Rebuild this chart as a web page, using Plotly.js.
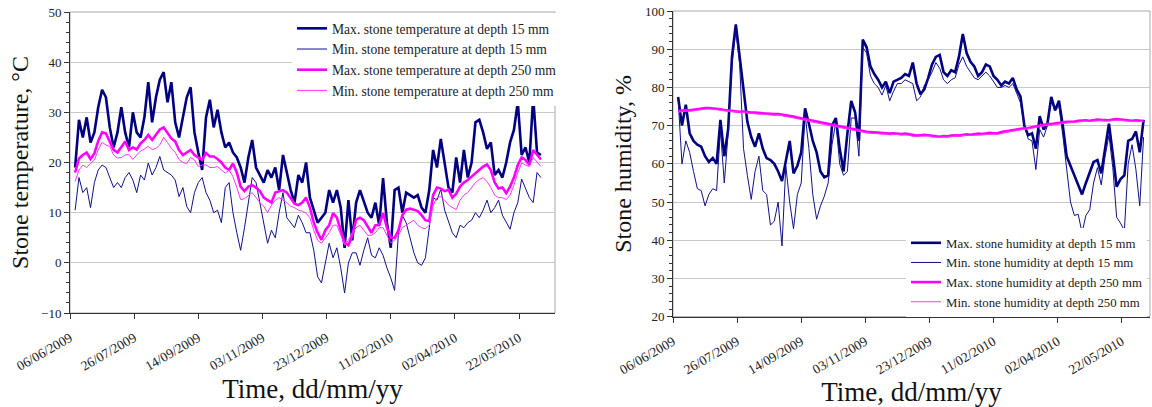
<!DOCTYPE html>
<html><head><meta charset="utf-8">
<script src="https://cdn.plot.ly/plotly-3.0.1.min.js"></script>
<style>html,body{margin:0;padding:0;background:#fff}#chart{width:1152px;height:407px}</style>
</head><body><div id="chart"></div>
<script>
// Sampling: one reading every 3 days, starting 10/06/2009
const START_DATE = [2009, 6, 10];
const STEP_DAYS = 3;

// Stone temperature, °C
const tempMax15 = [19, 28.5, 25, 29, 24, 26, 31, 34.5, 33, 27, 23, 26, 31, 26, 23, 30, 26, 25, 29, 36, 28, 33, 36.5, 38, 32, 36, 28, 25, 29, 33, 35, 26, 22, 18.5, 29, 32.5, 27, 30.5, 26, 23, 24,
  22, 21, 19, 16, 21, 24.5, 19, 17.5, 16, 18.5, 17, 19, 14.5, 21.5, 18, 14.5, 12, 17.5, 16, 20, 13, 10.5, 8, 9, 10, 14.5, 12, 14.5, 11, 3, 12.5, 4.5, 12, 14.5, 12, 10, 9, 12, 7.5, 16.9, 8, 3, 14.5,
  15, 10, 14, 13.5, 13, 13.5, 11, 10, 14.5, 22.5, 19, 24.7, 20, 15, 14, 21, 16, 22.5, 17, 20, 28, 28.5, 26, 22.7, 24, 17.5, 18.5, 17, 20, 24, 26.5, 32, 21.5, 23, 20, 33, 22, 21.5];
const tempMin15 = [10.5, 17, 14, 15, 11, 16, 18.5, 19.5, 19, 17, 15, 16, 15, 17, 18, 16.5, 14, 17.5, 16.5, 19.9, 17.5, 19, 21.2, 18.5, 18, 17.5, 16.5, 13.2, 15, 11.2, 10, 14, 16, 17, 14, 12.5, 10, 10.5, 8, 15, 16,
  10, 6, 2.5, 7, 12.5, 17, 16, 12, 7.9, 3.9, 6.5, 5, 10, 14, 9, 8, 7, 9.5, 8, 6, 6, 2.5, -2.8, -4, 0, 3.9, 1, 3, -1, -6, 0, 2, 2, -0.5, 2.5, 5, 1.5, 1, 3, 1.5, -1, -3, -5.5,
  6, 9.5, 8, 5, 2, 0, -0.5, 1, 6.7, 13, 12.5, 14.7, 10.5, 8, 6, 5, 7.5, 7, 8, 8.5, 10, 9, 10.5, 12.5, 10, 11, 12.5, 9.5, 8, 6.7, 10, 12, 16.7, 15, 13, 12, 18, 17];
const tempMax250 = [18, 20.8, 21.5, 22, 20.7, 21.8, 24.3, 26, 25.8, 24.3, 22.5, 22, 23, 24.2, 22.5, 23, 22.6, 23.8, 24.5, 25.5,
  24.5, 25.5, 26.6, 27, 26, 24.8, 24.2, 22.5, 21.5, 22, 22.5, 21.5, 21, 20.5, 21.9, 21.2, 21.2, 20.7, 20, 19,
  18.5, 19.8, 18, 15.2, 14.3, 15.2, 15.5, 15, 14.3, 13, 12.5, 12, 14, 14.2, 14.5, 14, 13, 11.8, 11.5, 12,
  13, 11, 8, 6, 4.6, 6.5, 7.5, 9.9, 9, 6.5, 4, 3.5, 5.5, 8.6, 9, 8.5, 7.3, 6, 7.5, 7.5,
  9.9, 7, 5, 5, 6.5, 9.5, 10.6, 10.8, 10.6, 10.3, 9.5, 8.5, 8.3, 13.5, 15, 14.8, 14.3, 14.6, 13, 13.8,
  15.2, 16, 16.5, 17.2, 17.8, 18.6, 19.2, 19.6, 18.5, 16, 14.8, 15, 13.9, 15.2, 17, 19.5, 21, 20.5, 19.5, 22.5, 21.5, 20.6];
const tempMin250 = [16.2, 18.5, 19.5, 19, 19.8, 20.5, 22.5, 24, 23.5, 23.2, 21.5, 20.9, 21, 21.5, 21.6, 20.6, 21.5, 22.3, 22.7, 23.2,
  22.6, 22.8, 23.5, 25, 24, 22.8, 22, 20.6, 20, 19.8, 21, 20.5, 19.2, 19.5, 19.5, 19, 19, 19.2, 18.5, 17.9,
  18.5, 17.2, 15, 12.6, 12.8, 13.5, 14, 13, 12, 11.3, 10, 11.5, 12.5, 13, 12.5, 12, 11.3, 11, 10.5, 10.3,
  9.9, 9, 6.5, 4.5, 3.9, 5, 6, 7.5, 7.5, 5.5, 3.5, 4.5, 6, 7, 7.5, 6.5, 5.5, 5.5, 6, 7,
  7, 5.5, 4, 4.5, 5.5, 7, 7.5, 8, 8.5, 7.5, 7, 6.8, 7.5, 11.5, 13, 13.2, 12.5, 11.5, 11, 10.6,
  12.5, 13.5, 14, 15, 16, 16.6, 17, 16.2, 15, 13.5, 13, 13, 12.6, 13.5, 15.5, 18, 19.9, 19.5, 19.2, 21, 20, 19.2];

// Stone humidity, %
const humMax15 = [77.5, 70, 75.5, 68, 66, 65, 64.5, 62, 60.5, 61.5, 60, 71.5, 62, 69, 88, 96.5, 88, 79, 71, 67, 64.5, 68, 64, 61.5, 61, 60, 58, 55.5, 60.7, 66, 57.5, 59.5, 63, 74.5, 70.5, 66, 63, 58, 56.5, 57, 70,
  72, 64, 58, 68, 76.5, 73.5, 66, 92.5, 90.5, 85.5, 83.5, 82, 80, 81.5, 78.5, 81.5, 82, 82.5, 83.5, 83, 86.5, 81, 78.2, 79.5, 82.5, 86, 88, 88.5, 84, 83, 84.5, 84, 88, 94, 89, 86.7, 85.5, 83, 84, 86, 85.5, 83, 82,
  80.5, 81.5, 81, 82.5, 79.5, 77.6, 70, 67.5, 68, 64, 72.5, 69, 70.5, 77.5, 74, 76.5, 70, 62, 59.5, 56.5, 54.5, 52, 55, 57.5, 60.5, 61, 57.5, 64, 70.5, 62.5, 54, 56, 57, 66, 66.5, 68.5, 63, 71.5];
const humMin15 = [77, 60, 66, 63, 58, 53.5, 53, 49, 52, 53.5, 53, 69, 55, 68, 86, 95, 86, 64, 57, 50.7, 58, 62, 53, 52, 44, 45, 50, 38.5, 59.4, 50, 43, 52, 55, 73, 64, 52, 45.5, 49, 51.5, 55, 65,
  71, 60, 57, 58, 72, 72, 62, 90.5, 89, 83, 81, 80, 78, 80.5, 76.5, 79, 81, 81, 82, 81.5, 81, 76.5, 77.5, 80.5, 82, 84, 86.5, 85, 82, 81, 82, 82.5, 86, 88, 85.5, 84, 82.5, 82, 83, 84, 83, 81.5, 80,
  80, 80.5, 80, 81, 78.5, 76, 70, 66.5, 66, 58.5, 69, 67, 70, 76.5, 74, 75, 67.5, 58.5, 50, 46.5, 46.8, 42, 46.5, 48, 55, 59, 54.5, 62, 67.5, 59, 46, 44.5, 42.5, 60, 65, 58.5, 49, 67];
const humMax250 = [73.8, 74, 74.1, 74, 74.2, 74.3, 74.5, 74.6, 74.6, 74.5, 74.5, 74.3, 74.1, 74, 73.9, 73.8, 73.6, 73.7, 73.5, 73.4,
  73.4, 73.3, 73.2, 73.2, 73.1, 73, 73, 72.9, 72.8, 72.6, 72.4, 72.1, 71.9, 71.6, 71.4, 71.2, 71, 70.8, 70.5, 70.3,
  70.1, 69.9, 69.7, 69.5, 69.3, 69.1, 68.9, 68.7, 68.5, 68.4, 68.3, 68.2, 68.2, 68.1, 68, 67.9, 68, 67.9, 67.8, 67.9,
  67.7, 67.5, 67.4, 67.5, 67.6, 67.5, 67.3, 67.2, 67.1, 67.3, 67.2, 67.4, 67.5, 67.4, 67.6, 67.7, 67.6, 67.8, 67.9, 67.8,
  68, 68.1, 68, 68, 68.3, 68.5, 68.7, 68.9, 69, 69.2, 69.3, 69.4, 69.6, 69.9, 70.1, 70.2, 70.4, 70.4, 70.6, 70.7,
  70.9, 71, 71, 71.1, 71.3, 71.4, 71.4, 71.3, 71.5, 71.6, 71.5, 71.5, 71.4, 71.6, 71.7, 71.6, 71.5, 71.4, 71.3, 71.4, 71.3, 71.2];
const humMin250 = [73.5, 73.7, 73.8, 73.8, 73.9, 74, 74.2, 74.3, 74.4, 74.2, 74.2, 74, 73.9, 73.7, 73.6, 73.5, 73.4, 73.4, 73.2, 73.1,
  73.1, 73, 73, 72.9, 72.8, 72.7, 72.8, 72.6, 72.5, 72.3, 72.1, 71.8, 71.6, 71.4, 71.1, 70.9, 70.8, 70.5, 70.3, 70,
  69.8, 69.7, 69.4, 69.3, 69, 68.9, 68.6, 68.5, 68.3, 68.1, 68, 68, 67.9, 67.8, 67.8, 67.6, 67.7, 67.7, 67.5, 67.6,
  67.5, 67.2, 67.2, 67.2, 67.3, 67.3, 67, 67, 66.9, 67, 67, 67.1, 67.3, 67.2, 67.3, 67.5, 67.4, 67.5, 67.6, 67.6,
  67.7, 67.8, 67.8, 67.7, 68, 68.3, 68.4, 68.6, 68.8, 68.9, 69, 69.2, 69.3, 69.6, 69.8, 70, 70.1, 70.2, 70.3, 70.5,
  70.6, 70.7, 70.8, 70.9, 71, 71.1, 71.2, 71.1, 71.2, 71.3, 71.3, 71.2, 71.2, 71.3, 71.4, 71.4, 71.3, 71.2, 71.1, 71.1, 71.1, 71];

// Axis ticks
const tickDates = ['2009-06-06', '2009-07-26', '2009-09-14', '2009-11-03', '2009-12-23', '2010-02-11', '2010-04-02', '2010-05-22'];
const tickLabels = ['06/06/2009', '26/07/2009', '14/09/2009', '03/11/2009', '23/12/2009', '11/02/2010', '02/04/2010', '22/05/2010'];

const namesTemp = ['Max. stone temperature at depth 15 mm', 'Min. stone temperature at depth 15 mm', 'Max. stone temperature at depth 250 mm', 'Min. stone temperature at depth 250 mm'];
const namesHum = ['Max. stone humidity at depth 15 mm', 'Min. stone humidity at depth 15 mm', 'Max. stone humidity at depth 250 mm', 'Min. stone humidity at depth 250 mm'];

function buildDates(n) {
  const t0 = Date.UTC(START_DATE[0], START_DATE[1] - 1, START_DATE[2]);
  const out = [];
  for (let i = 0; i < n; i++) out.push(new Date(t0 + i * STEP_DAYS * 86400000).toISOString().slice(0, 10));
  return out;
}
const dates = buildDates(tempMax15.length);

const NAVY = '#000080', MAG = '#ff00ff';
const styles = [
  {color: NAVY, width: 2.6},
  {color: '#10108a', width: 1},
  {color: MAG, width: 2.6},
  {color: '#ff33ff', width: 1}
];
const FONT = 'Liberation Serif';

const tempSeries = [tempMax15, tempMin15, tempMax250, tempMin250];
const humSeries = [humMax15, humMin15, humMax250, humMin250];
const traces = [];
tempSeries.forEach((s, i) => traces.push({x: dates, y: s, type: 'scatter', mode: 'lines', name: namesTemp[i],
  line: styles[i], xaxis: 'x', yaxis: 'y', legend: 'legend', hoverinfo: 'x+y'}));
humSeries.forEach((s, i) => traces.push({x: dates, y: s, type: 'scatter', mode: 'lines', name: namesHum[i],
  line: styles[i], xaxis: 'x2', yaxis: 'y2', legend: 'legend2', hoverinfo: 'x+y'}));

function xAxis(domain, end, anchor) {
  return {domain: domain, type: 'date', range: ['2009-06-06', end], anchor: anchor,
    tickmode: 'array', tickvals: tickDates, ticktext: tickLabels, tickangle: -30,
    ticks: 'outside', ticklen: 5, tickcolor: '#333', showline: true, linecolor: '#333', linewidth: 1,
    ticklabelstandoff: 6, automargin: false,
    showgrid: false, zeroline: false, tickfont: {family: FONT, size: 13.5, color: '#222'},
    title: {text: 'Time, dd/mm/yy', font: {family: FONT, size: 27, color: '#111'}, standoff: 2}};
}
function yAxis(domain, range, title, anchor, standoff) {
  return {domain: domain, range: range, dtick: 10, anchor: anchor, automargin: false,
    ticks: 'outside', ticklen: 5, tickcolor: '#333', showline: true, linecolor: '#333', linewidth: 1,
    minor: {dtick: 2, ticks: 'outside', ticklen: 3, tickcolor: '#333', showgrid: false},
    showgrid: true, gridcolor: '#c8c8c8', gridwidth: 1, zeroline: false,
    tickfont: {family: FONT, size: 13, color: '#222'},
    title: {text: title, font: {family: FONT, size: 24, color: '#111'}, standoff: standoff}};
}

const layout = {
  width: 1152, height: 407, margin: {l: 0, r: 0, t: 0, b: 0, autoexpand: false},
  paper_bgcolor: '#fff', plot_bgcolor: '#fff',
  font: {family: FONT, color: '#222'},
  xaxis: xAxis([70 / 1152, 555 / 1152], '2010-06-19', 'y'),
  yaxis: yAxis([1 - 313 / 407, 1 - 12 / 407], [-10, 50], 'Stone temperature, °C', 'x', 5),
  xaxis2: xAxis([673 / 1152, 1150 / 1152], '2010-06-13', 'y2'),
  yaxis2: yAxis([1 - 316.7 / 407, 1 - 11 / 407], [20, 100], 'Stone humidity, %', 'x2', 6),
  legend: {x: 292 / 1152, y: 1 - 13 / 407, xanchor: 'left', yanchor: 'top', bgcolor: '#fff', borderwidth: 0,
    font: {family: FONT, size: 13.6, color: '#222'}, tracegroupgap: 0},
  legend2: {x: 906 / 1152, y: 1 - 228 / 407, xanchor: 'left', yanchor: 'top', bgcolor: '#fff', borderwidth: 0,
    font: {family: FONT, size: 12.8, color: '#222'}, tracegroupgap: 0},
  shapes: [
    {type: 'rect', xref: 'x domain', yref: 'y domain', x0: 0, x1: 1, y0: 0, y1: 1, line: {color: '#a8a8a8', width: 1}, layer: 'below'},
    {type: 'rect', xref: 'x2 domain', yref: 'y2 domain', x0: 0, x1: 1, y0: 0, y1: 1, line: {color: '#a8a8a8', width: 1}, layer: 'below'}
  ],
  showlegend: true
};

Plotly.newPlot('chart', traces, layout, {displayModeBar: false, staticPlot: true});
</script>
</body></html>
